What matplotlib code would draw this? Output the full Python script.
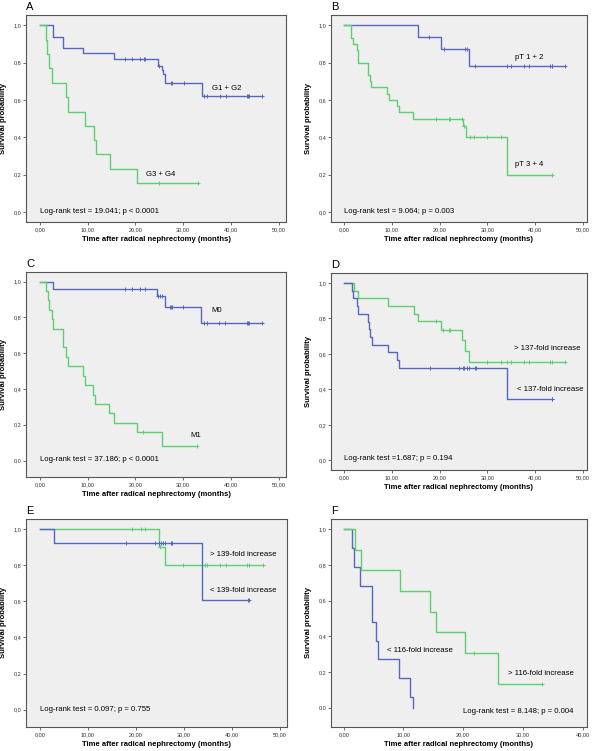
import matplotlib.pyplot as plt
import numpy as np

# -----------------------------
# Data
# -----------------------------
# Panel A: grading
A_blue_t = [0, 2.86, 4.95, 9.1, 15.6, 24.8, 25.5, 25.7, 26.1, 34.0]
A_blue_s = [1.0, 0.939, 0.879, 0.850, 0.818, 0.782, 0.760, 0.740, 0.693, 0.621]
A_blue_c = [17.9, 19.3, 21.0, 21.8, 22.0, 25.0, 27.4, 27.6, 30.1, 34.4, 34.9, 37.6, 38.9, 43.3, 43.5, 43.7, 46.4]
A_green_t = [0, 1.3, 1.6, 2.0, 2.65, 5.4, 5.85, 9.4, 11.4, 11.7, 14.6, 20.4]
A_green_s = [1.0, 0.923, 0.846, 0.770, 0.692, 0.615, 0.538, 0.461, 0.385, 0.308, 0.231, 0.154]
A_green_c = [25.0, 33.1]

# Panel B: pT stage
B_blue_t = [0, 15.5, 20.2, 26.2]
B_blue_s = [1.0, 0.936, 0.871, 0.782]
B_blue_c = [17.8, 20.9, 25.4, 25.7, 27.5, 34.2, 34.9, 37.6, 38.8, 43.1, 43.5, 43.6, 46.3]
B_green_t = [0, 1.5, 1.9, 2.65, 2.9, 5.0, 5.4, 5.7, 9.0, 9.3, 11.1, 11.5, 14.5, 24.9, 25.5, 34.1]
B_green_s = [1.0, 0.933, 0.900, 0.867, 0.800, 0.733, 0.700, 0.667, 0.633, 0.600, 0.567, 0.533, 0.500, 0.458, 0.400, 0.200]
B_green_c = [19.2, 22.0, 22.2, 24.6, 25.2, 26.4, 27.3, 30.0, 32.8, 43.5]

# Panel C: metastasis
C_blue_t = [0, 2.86, 24.5, 26.1, 33.8]
C_blue_s = [1.0, 0.961, 0.920, 0.860, 0.770]
C_blue_c = [17.9, 19.3, 21.0, 22.0, 24.8, 25.2, 25.6, 27.3, 27.5, 27.6, 29.9, 34.4, 34.9, 37.5, 38.8, 43.3, 43.5, 43.7, 46.4]
C_green_t = [0, 1.3, 1.7, 2.0, 2.65, 2.86, 4.8, 5.4, 5.85, 9.1, 9.4, 11.2, 11.6, 14.4, 15.6, 20.3, 25.6]
C_green_s = [1.0, 0.947, 0.895, 0.842, 0.790, 0.737, 0.632, 0.579, 0.526, 0.474, 0.421, 0.368, 0.316, 0.263, 0.210, 0.158, 0.079]
C_green_c = [21.5, 32.8]

# Panel D: 137-fold increase
D_green_t = [0, 2.1, 2.9, 9.2, 14.6, 15.5, 20.2, 24.7, 25.4, 26.2]
D_green_s = [1.0, 0.957, 0.913, 0.870, 0.826, 0.783, 0.735, 0.680, 0.617, 0.555]
D_green_c = [19.2, 20.8, 21.9, 22.2, 30.0, 32.8, 34.2, 34.9, 37.6, 38.8, 43.1, 43.5, 46.3]
D_blue_t = [0, 1.6, 1.8, 2.7, 2.9, 4.9, 5.1, 5.5, 5.8, 9.2, 11.1, 11.5, 34.1]
D_blue_s = [1.0, 0.957, 0.913, 0.870, 0.826, 0.780, 0.740, 0.696, 0.652, 0.609, 0.565, 0.522, 0.348]
D_blue_c = [18.0, 24.1, 24.8, 25.2, 25.7, 26.1, 27.5, 27.6, 43.5, 43.6]

# Panel E: 139-fold increase
E_green_t = [0, 24.8, 26.1]
E_green_s = [1.0, 0.905, 0.804]
E_green_c = [19.2, 21.0, 22.0, 25.0, 29.9, 33.8, 34.4, 34.9, 37.5, 38.8, 43.2, 43.5, 46.4]
E_blue_t = [0, 2.86, 33.8]
E_blue_s = [1.0, 0.923, 0.610]
E_blue_c = [17.9, 24.1, 24.8, 25.2, 25.6, 26.0, 27.3, 27.5, 27.6, 43.3, 43.5]

# Panel F: 116-fold increase
F_blue_t = [0, 1.4, 1.7, 2.7, 4.8, 5.4, 5.8, 9.2, 11.1, 11.6]
F_blue_s = [1.0, 0.895, 0.790, 0.684, 0.480, 0.376, 0.270, 0.164, 0.060, 0.0]
F_blue_c = []
F_green_t = [0, 1.96, 2.96, 9.4, 14.5, 15.5, 20.3, 25.8]
F_green_s = [1.0, 0.885, 0.770, 0.654, 0.539, 0.423, 0.308, 0.130]
F_green_c = [21.8, 33.2]

BLUE = "#5468c2"
GREEN = "#5fcf72"
BG = "#efefef"
W, H = 600, 751
FS = 5.6


def km_line(ax, t, s, cens, color):
    t = np.asarray(t, dtype=float)
    s = np.asarray(s, dtype=float)
    end = max(t[-1], max(cens) if cens else t[-1])
    ax.step(np.append(t, end), np.append(s, s[-1]), where="post", color=color, lw=1.0)
    if cens:
        c = np.asarray(cens, dtype=float)
        cy = s[np.searchsorted(t, c, side="right") - 1]
        ax.plot(c, cy, ls="none", marker="+", ms=3.5, mew=0.7, color=color)


def setup(box, xlim, ylim, xticks, letter):
    left, right, top, bottom = box
    ax = fig.add_axes([left / W, 1 - bottom / H, (right - left) / W, (bottom - top) / H])
    ax.set_facecolor(BG)
    ax.set_xlim(*xlim)
    ax.set_ylim(*ylim)
    ax.set_xticks(xticks)
    ax.set_xticklabels([f"{v:.2f}".replace(".", ",") for v in xticks])
    yt = [0, 0.2, 0.4, 0.6, 0.8, 1.0]
    ax.set_yticks(yt)
    ax.set_yticklabels([f"{v:.1f}".replace(".", ",") for v in yt])
    ax.tick_params(labelsize=4, length=2, width=0.5, pad=1.5, colors="#333333")
    for sp in ax.spines.values():
        sp.set_color("#555555")
        sp.set_linewidth(0.8)
    ax.set_xlabel("Time after radical nephrectomy (months)", fontsize=5.5, fontweight="bold", labelpad=3)
    ax.set_ylabel("Survival probability", fontsize=5.5, fontweight="bold")
    ax.yaxis.set_label_coords(-0.073, 0.5)
    ax.text(0.0, 1.015, letter, transform=ax.transAxes, fontsize=8, va="bottom", ha="left")
    return ax


fig = plt.figure(figsize=(6, 7.51), dpi=100)
plt.rcParams["font.family"] = ["Liberation Sans", "DejaVu Sans"]

x50 = [0, 10, 20, 30, 40, 50]

# A
ax = setup((26, 286, 15, 222), (-2.87, 51.5), (-0.054, 1.055), x50, "A")
km_line(ax, A_blue_t, A_blue_s, A_blue_c, BLUE)
km_line(ax, A_green_t, A_green_s, A_green_c, GREEN)
ax.text(36.0, 0.655, "G1 + G2", fontsize=FS)
ax.text(22.2, 0.19, "G3 + G4", fontsize=FS)
ax.text(0.1, 0.0, "Log-rank test = 19.041; p < 0.0001", fontsize=FS, va="center")

# B
ax = setup((331, 587, 15, 222), (-2.78, 50.9), (-0.054, 1.055), x50, "B")
km_line(ax, B_blue_t, B_blue_s, B_blue_c, BLUE)
km_line(ax, B_green_t, B_green_s, B_green_c, GREEN)
ax.text(35.7, 0.82, "pT 1 + 2", fontsize=FS)
ax.text(35.7, 0.245, "pT 3 + 4", fontsize=FS)
ax.text(0.0, 0.0, "Log-rank test = 9.064; p = 0.003", fontsize=FS, va="center")

# C
ax = setup((26, 286, 272, 477), (-2.87, 51.5), (-0.092, 1.054), x50, "C")
km_line(ax, C_blue_t, C_blue_s, C_blue_c, BLUE)
km_line(ax, C_green_t, C_green_s, C_green_c, GREEN)
ax.text(35.8, 0.83, "M0", fontsize=FS)
ax.text(31.4, 0.13, "M1", fontsize=FS)
ax.text(0.0, 0.008, "Log-rank test = 37.186; p < 0.0001", fontsize=FS, va="center")

# D
ax = setup((331, 587, 273, 470), (-2.78, 50.9), (-0.055, 1.056), x50, "D")
km_line(ax, D_green_t, D_green_s, D_green_c, GREEN)
km_line(ax, D_blue_t, D_blue_s, D_blue_c, BLUE)
ax.text(35.5, 0.62, "> 137-fold increase", fontsize=FS)
ax.text(36.2, 0.39, "< 137-fold increase", fontsize=FS)
ax.text(0.0, 0.008, "Log-rank test =1.687; p = 0.194", fontsize=FS, va="center")

# E
ax = setup((26, 287, 519, 727), (-2.87, 51.5), (-0.097, 1.058), x50, "E")
km_line(ax, E_green_t, E_green_s, E_green_c, GREEN)
km_line(ax, E_blue_t, E_blue_s, E_blue_c, BLUE)
ax.text(35.5, 0.855, "> 139-fold increase", fontsize=FS)
ax.text(35.5, 0.65, "< 139-fold increase", fontsize=FS)
ax.text(0.0, 0.0, "Log-rank test = 0.097; p = 0.755", fontsize=FS, va="center")

# F
ax = setup((331, 587, 519, 727), (-2.13, 40.75), (-0.109, 1.058), [0, 10, 20, 30, 40], "F")
km_line(ax, F_blue_t, F_blue_s, F_blue_c, BLUE)
km_line(ax, F_green_t, F_green_s, F_green_c, GREEN)
ax.text(7.2, 0.31, "< 116-fold increase", fontsize=FS)
ax.text(27.5, 0.184, "> 116-fold increase", fontsize=FS)
ax.text(19.9, -0.02, "Log-rank test = 8.148; p = 0.004", fontsize=FS, va="center")

fig.savefig("out.png", dpi=100)
